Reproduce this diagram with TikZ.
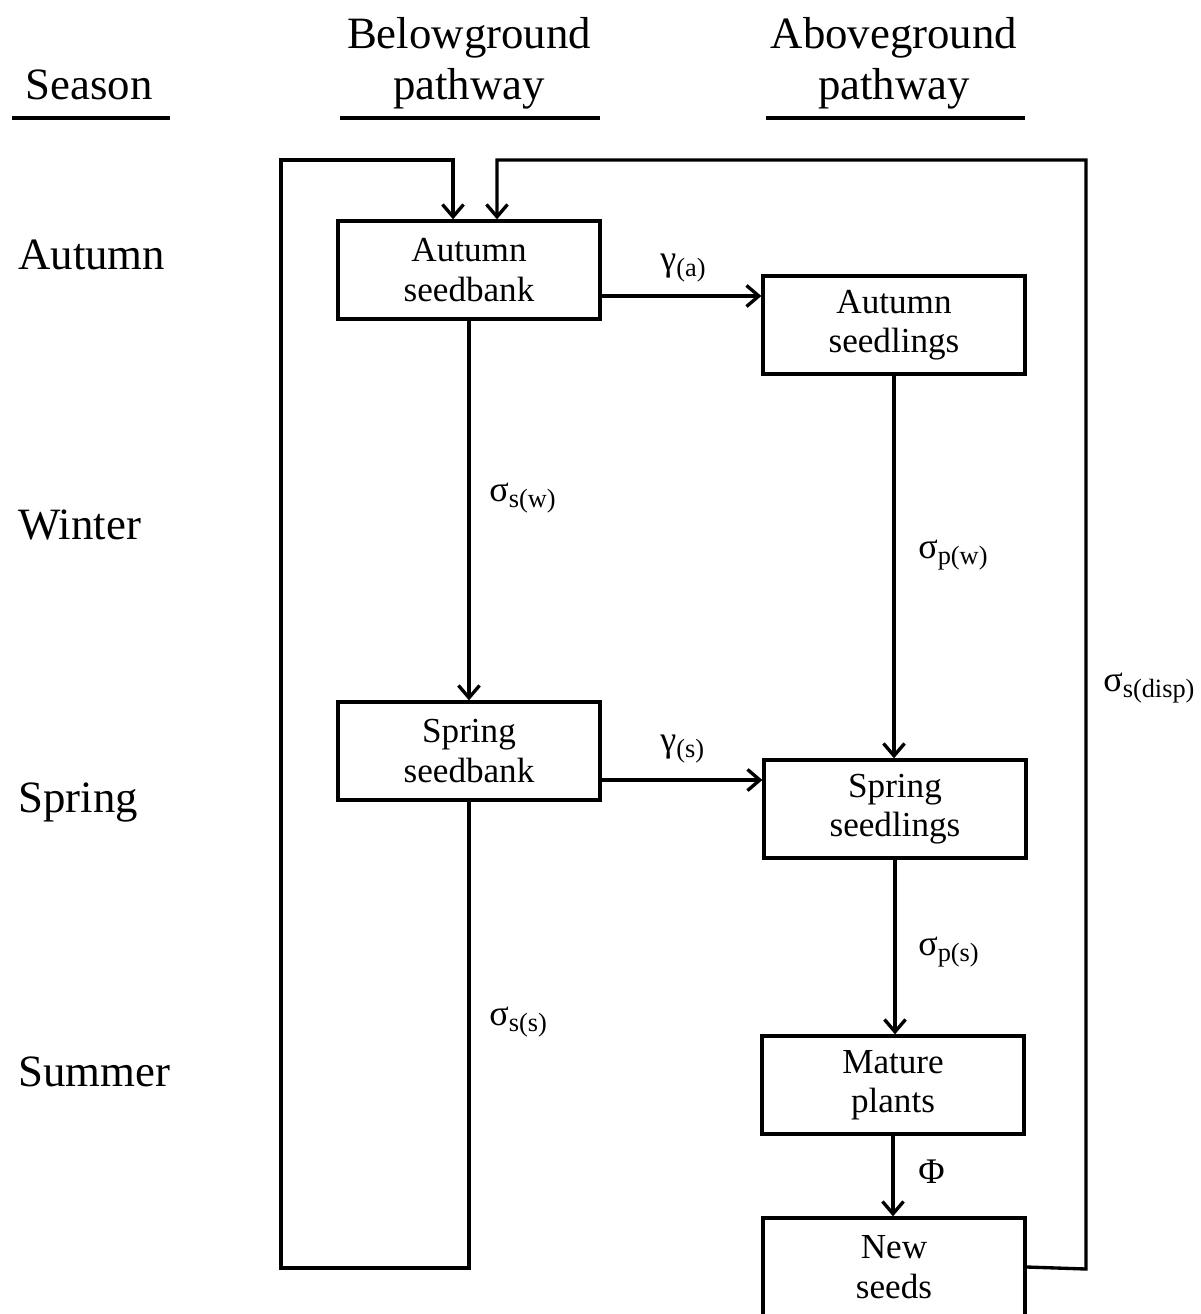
\documentclass[tikz,border=0pt]{standalone}
\usepackage{fontspec}
\setmainfont{Liberation Serif}
\usepackage{tikz}
\usetikzlibrary{arrows.meta}
\tikzset{
  stage/.style={draw, line width=1.9pt, minimum width=5.24cm, minimum height=1.96cm,
    align=center, font=\fontsize{20}{22.5}\selectfont},
  flow/.style={line width=1.9pt, -{Straight Barb[length=7pt,width=12pt,line width=1.9pt]}},
  wire/.style={line width=1.9pt},
  rate/.style={anchor=west, inner sep=0pt, font=\fontsize{20.5}{24}\selectfont},
  season/.style={anchor=base west, inner sep=0pt, font=\fontsize{25.5}{30}\selectfont},
  head/.style={align=center, inner sep=0pt, font=\fontsize{25.5}{29.5}\selectfont}
}
\newcommand{\rt}[2]{#1\textsubscript{\fontsize{15}{18}\selectfont #2}}
\begin{document}
\begin{tikzpicture}[x=0.02cm,y=-0.02cm]
  \useasboundingbox (0,0) rectangle (1200,1314);
  % Column headings
  \node[head, anchor=base] (hs) at (89,100) {Season};
  \node[head, anchor=base] (hb) at (469,100) {Belowground\\pathway};
  \node[head, anchor=base] (ha) at (894,100) {Aboveground\\pathway};
  \draw[wire] (12,118) -- (170,118);
  \draw[wire] (340,118) -- (600,118);
  \draw[wire] (766,118) -- (1025,118);
  % Seasons
  \node[season] (s1) at (18,270) {Autumn};
  \node[season] (s2) at (18,539) {Winter};
  \node[season] (s3) at (18,812) {Spring};
  \node[season] (s4) at (18,1086) {Summer};
  % Stages
  \node[stage] (asb) at (469,270) {Autumn\\seedbank};
  \node[stage] (asl) at (894,325) {Autumn\\seedlings};
  \node[stage] (ssb) at (469,751) {Spring\\seedbank};
  \node[stage] (ssl) at (895,809) {Spring\\seedlings};
  \node[stage] (mp) at (893,1085) {Mature\\plants};
  \node[stage] (ns) at (894,1267) {New\\seeds};
  % Transitions
  \draw[flow] (asb.east |- 0,296) -- (asl.west |- 0,296);
  \draw[flow] (asb) -- (ssb);
  \draw[flow] (asl) -- (asl |- ssl.north);
  \draw[flow] (ssb.east |- 0,780) -- (ssl.west |- 0,780);
  \draw[flow] (ssl) -- (ssl |- mp.north);
  \draw[flow] (mp) -- (mp |- ns.north);
  \coordinate (inl) at (453,160);
  \coordinate (inr) at (497,160);
  \draw[flow] (ssb.south) |- (281,1268) |- (inl) -- (inl |- asb.north);
  \draw[flow] (ns.east) -- (1086,1269) -- (1086,160) -- (inr) -- (inr |- asb.north);
  % Rates
  \node[rate] (ga) at (660,268) {\rt{γ}{(a)}};
  \node[rate] (gs) at (660,749) {\rt{γ}{(s)}};
  \node[rate] (ssw) at (489,498) {\rt{σ}{s(w)}};
  \node[rate] (spw) at (918,555) {\rt{σ}{p(w)}};
  \node[rate] (sss) at (489,1022) {\rt{σ}{s(s)}};
  \node[rate] (sps) at (918,952) {\rt{σ}{p(s)}};
  \node[rate] (sd) at (1103,688) {\rt{σ}{s(disp)}};
  \node[rate] (ph) at (918,1172) {Φ};
\end{tikzpicture}
\end{document}
